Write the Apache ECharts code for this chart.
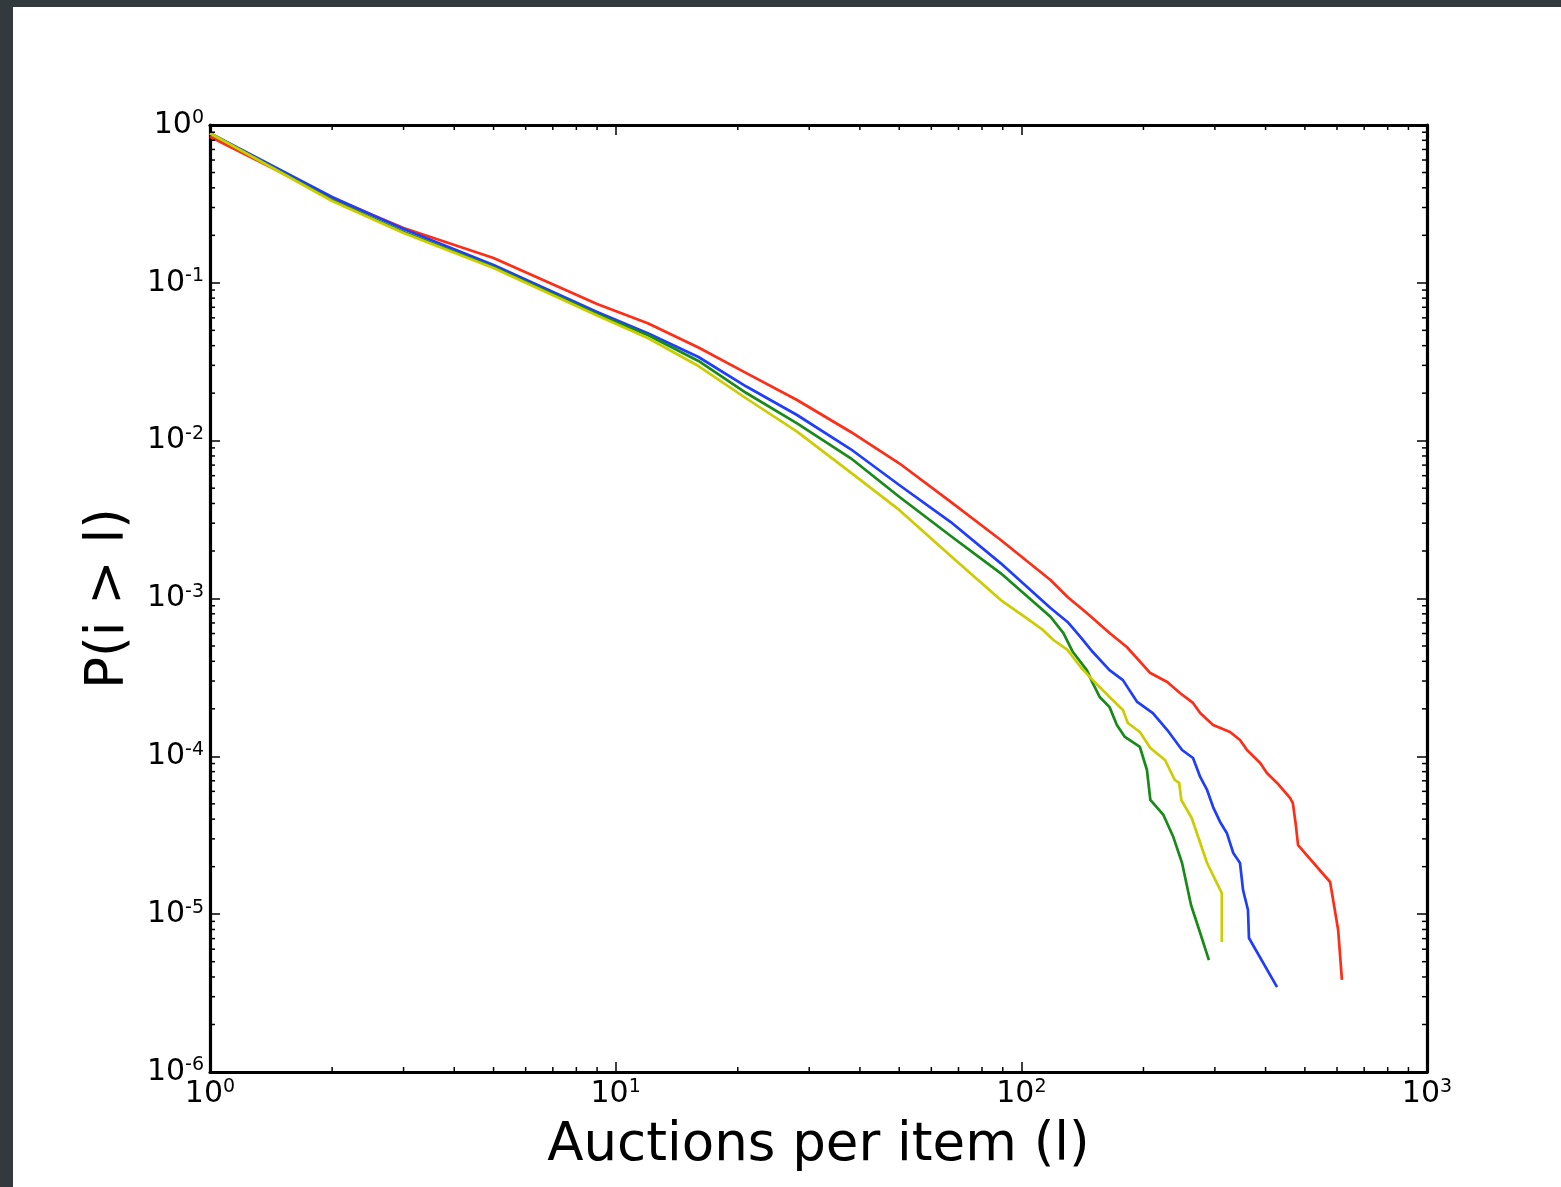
<!DOCTYPE html>
<html>
<head>
<meta charset="utf-8">
<script src="https://cdn.jsdelivr.net/npm/echarts@6/dist/echarts.min.js"></script>
<style>
  html, body { margin: 0; padding: 0; width: 1561px; height: 1187px; overflow: hidden; background: #323a3e; }
  #panel { position: absolute; left: 13px; top: 7px; right: 0; bottom: 0; background: #ffffff; }
  #chart { position: absolute; left: 0; top: 0; width: 1561px; height: 1187px; }
</style>
</head>
<body>
<div id="panel"></div>
<div id="chart"></div>
<script>
// ---- data ----
const redX = [1,2,3,5,9,12,16,21,28,38,50,67,89,118,130,145,165,182,208,229,246,265,276,297,327,346,360,388,403,427,460,467,475,481,577,604,617];
const redY = [0.843,0.345,0.2226,0.1437,0.0734,0.0554,0.0389,0.0268,0.0181,0.01135,0.00719,0.00409,0.002348,0.00131,1.022e-3,8.09e-4,6.04e-4,4.93e-4,3.37e-4,2.96e-4,2.52e-4,2.18e-4,1.88e-4,1.58e-4,1.426e-4,1.269e-4,1.096e-4,9.07e-5,7.84e-5,6.78e-5,5.44e-5,5.06e-5,3.67e-5,2.74e-5,1.599e-5,7.93e-6,3.83e-6];

const blueX = [1,2,3,5,9,12,16,21,28,38,50,67,89,118,130,140,150,165,178,193,211,229,249,265,276,287,297,309,321,333,346,352,362,364,427];
const blueY = [0.886,0.350,0.2194,0.1297,0.0653,0.0479,0.0339,0.02203,0.01454,0.00882,0.00524,0.00305,0.00167,8.70e-4,7.10e-4,5.70e-4,4.58e-4,3.52e-4,3.04e-4,2.21e-4,1.88e-4,1.468e-4,1.097e-4,9.76e-5,7.40e-5,6.12e-5,4.77e-5,3.84e-5,3.27e-5,2.44e-5,2.11e-5,1.422e-5,1.062e-5,7.06e-6,3.45e-6];

const greenX = [1,2,3,5,9,12,16,21,28,38,50,67,89,118,127,134,145,150,156,165,172,180,196,204,208,224,237,249,262,276,290];
const greenY = [0.886,0.3348,0.210,0.1260,0.0634,0.0467,0.0320,0.02004,0.01288,0.00773,0.00441,0.002488,0.001444,7.66e-4,6.04e-4,4.58e-4,3.52e-4,2.91e-4,2.376e-4,2.05e-4,1.58e-4,1.326e-4,1.146e-4,8.19e-5,5.29e-5,4.25e-5,3.08e-5,2.11e-5,1.143e-5,7.60e-6,5.12e-6];

const yellowX = [1,2,3,5,9,12,16,21,28,38,50,67,89,103,113,120,130,140,150,165,178,183,196,208,226,239,245,248,263,287,312,312];
const yellowY = [0.886,0.330,0.2069,0.1242,0.0621,0.0447,0.0297,0.0185,0.0114,0.00627,0.00364,0.00186,9.78e-4,7.52e-4,6.32e-4,5.46e-4,4.72e-4,3.68e-4,3.04e-4,2.376e-4,1.965e-4,1.626e-4,1.426e-4,1.129e-4,9.48e-5,7.08e-5,6.78e-5,5.29e-5,4.07e-5,2.11e-5,1.36e-5,6.66e-6];

// tick labels (exponents of 10) and minor tick multipliers
const xTickExponents = [0, 1, 2, 3];
const yTickExponents = [-6, -5, -4, -3, -2, -1, 0];
const minorMultipliers = [2, 3, 4, 5, 6, 7, 8, 9];

const xTitle = 'Auctions per item (l)';
const yTitle = 'P(i > l)';

// ---- build ----
const FONT = 'DejaVu Sans';
function zip(xs, ys) { return xs.map((x, i) => [x, ys[i]]); }

const xMin = Math.pow(10, xTickExponents[0]);
const xMax = Math.pow(10, xTickExponents[xTickExponents.length - 1]);
const yMin = Math.pow(10, yTickExponents[0]);
const yMax = Math.pow(10, yTickExponents[yTickExponents.length - 1]);

const minorTicks = [];
xTickExponents.slice(0, -1).forEach(e => {
  minorMultipliers.forEach(m => {
    const v = m * Math.pow(10, e);
    minorTicks.push([v, yMin, 0]);
    minorTicks.push([v, yMax, 1]);
  });
});
yTickExponents.slice(0, -1).forEach(e => {
  minorMultipliers.forEach(m => {
    const v = m * Math.pow(10, e);
    minorTicks.push([xMin, v, 2]);
    minorTicks.push([xMax, v, 3]);
  });
});

function expLabel(v) {
  const e = Math.round(Math.log10(v));
  return '{b|10}{s|' + e + '}';
}
const labelRich = {
  b: { fontFamily: FONT, fontSize: 30, color: '#000', lineHeight: 32 },
  s: { fontFamily: FONT, fontSize: 19, color: '#000', lineHeight: 20, verticalAlign: 'top' }
};

const axisLineStyle = { color: '#000', width: 3.2 };
const tickStyle = { color: '#000', width: 1.5 };

function logX(extra) {
  return Object.assign({
    type: 'log', logBase: 10, min: xMin, max: xMax, splitNumber: 3,
    axisLine: { show: true, onZero: false, lineStyle: axisLineStyle },
    axisTick: { show: true, inside: true, length: 10, lineStyle: tickStyle },
    splitLine: { show: false },
    minorTick: { show: false }
  }, extra);
}
function logY(extra) {
  return Object.assign({
    type: 'log', logBase: 10, min: yMin, max: yMax, splitNumber: 6,
    axisLine: { show: true, onZero: false, lineStyle: axisLineStyle },
    axisTick: { show: true, inside: true, length: 10, lineStyle: tickStyle },
    splitLine: { show: false },
    minorTick: { show: false }
  }, extra);
}

const chart = echarts.init(document.getElementById('chart'), null, { renderer: 'canvas' });
const lineW = 2.7;
function lineSeries(name, xs, ys, color) {
  return {
    name: name, type: 'line', data: zip(xs, ys), xAxisIndex: 0, yAxisIndex: 0,
    showSymbol: false, symbol: 'none', smooth: false, clip: true,
    lineStyle: { color: color, width: lineW, join: 'round', cap: 'butt' }, itemStyle: { color: color },
    emphasis: { disabled: true }
  };
}

const option = {
  backgroundColor: 'transparent',
  animation: false,
  grid: { left: 210, top: 125, right: 134, bottom: 115, containLabel: false, outerBoundsMode: 'none' },
  xAxis: [
    logX({
      position: 'bottom',
      axisLabel: { show: true, margin: 6, formatter: expLabel, rich: labelRich, showMinLabel: true, showMaxLabel: true, hideOverlap: false },
      name: xTitle, nameLocation: 'middle', nameGap: 48,
      nameTextStyle: { fontFamily: FONT, fontSize: 53, color: '#000' }
    }),
    logX({ position: 'top', axisLabel: { show: false } })
  ],
  yAxis: [
    logY({
      position: 'left',
      axisLabel: { show: true, margin: 6, formatter: expLabel, rich: labelRich, showMinLabel: true, showMaxLabel: true, hideOverlap: false },
      name: yTitle, nameLocation: 'middle', nameGap: 74, nameRotate: 90,
      nameTextStyle: { fontFamily: FONT, fontSize: 53, color: '#000' }
    }),
    logY({ position: 'right', axisLabel: { show: false } })
  ],
  series: [
    lineSeries('red', redX, redY, '#ff2d16'),
    lineSeries('blue', blueX, blueY, '#1f3dff'),
    lineSeries('green', greenX, greenY, '#178a17'),
    lineSeries('yellow', yellowX, yellowY, '#cccc00'),
    {
      type: 'custom', coordinateSystem: 'cartesian2d', xAxisIndex: 0, yAxisIndex: 0,
      silent: true, clip: false, z: 10,
      dimensions: ['x', 'y', 'side'],
      encode: { x: 0, y: 1 },
      data: minorTicks,
      renderItem: function (params, api) {
        const p = api.coord([api.value(0), api.value(1)]);
        const side = api.value(2);
        const L = 5;
        let x2 = p[0], y2 = p[1];
        if (side === 0) y2 -= L;
        else if (side === 1) y2 += L;
        else if (side === 2) x2 += L;
        else x2 -= L;
        return { type: 'line', shape: { x1: p[0], y1: p[1], x2: x2, y2: y2 }, style: { stroke: '#000', lineWidth: 1.5 } };
      }
    }
  ]
};
chart.setOption(option);
</script>
</body>
</html>
